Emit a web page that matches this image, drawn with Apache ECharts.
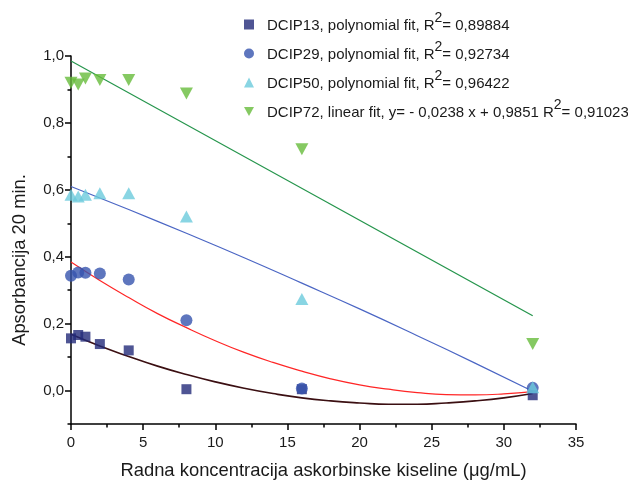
<!DOCTYPE html>
<html>
<head>
<meta charset="utf-8">
<script src="https://cdn.jsdelivr.net/npm/echarts@6/dist/echarts.min.js"></script>
<style>
html,body{margin:0;padding:0;background:#fff;}
#chart{width:628px;height:485px;}
</style>
</head>
<body>
<div id="chart"></div>
<script>
// concentrations (µg/mL)
const conc = [0, 0.5, 1, 2, 4, 8, 16, 32];
// measured absorbance
const dcip13 = [0.156, 0.166, 0.161, 0.139, 0.120, 0.004, 0.004, -0.014];
const dcip29 = [0.343, 0.353, 0.352, 0.350, 0.332, 0.210, 0.006, 0.008];
const dcip50 = [0.585, 0.580, 0.585, 0.590, 0.590, 0.520, 0.274, 0.010];
const dcip72 = [0.920, 0.915, 0.933, 0.928, 0.928, 0.888, 0.721, 0.139];
// fit curves
const fitX2 = [0, 2, 4, 6, 8, 10, 12, 14, 16, 18, 20, 22, 24, 26, 28, 30, 32];
const fit13 = [0.168, 0.133, 0.102, 0.073, 0.048, 0.026, 0.007, -0.009, -0.022, -0.031, -0.037, -0.041, -0.041, -0.037, -0.031, -0.022, -0.009];
const fit29 = [0.384, 0.329, 0.278, 0.230, 0.188, 0.149, 0.114, 0.084, 0.058, 0.035, 0.017, 0.004, -0.006, -0.012, -0.013, -0.010, -0.003];
const fitX4 = [0, 4, 8, 12, 16, 20, 24, 28, 32];
const fit50 = [0.610, 0.541, 0.470, 0.397, 0.321, 0.244, 0.164, 0.082, -0.002];
const fit72X = [0, 32];
const fit72 = [0.9851, 0.2235];
// legend texts
const legendNames = ['DCIP13', 'DCIP29', 'DCIP50', 'DCIP72'];
const legendFits = [
  ['polynomial fit, R', '2', '= 0,89884'],
  ['polynomial fit, R', '2', '= 0,92734'],
  ['polynomial fit, R', '2', '= 0,96422'],
  ['linear fit, y= - 0,0238 x + 0,9851 R', '2', '= 0,91023']
];
// axis ticks
const yMajor = [0, 0.2, 0.4, 0.6, 0.8, 1.0];
const yMinor = [-0.1, 0.1, 0.3, 0.5, 0.7, 0.9];

const pairs = (xs, ys) => xs.map((x, i) => [x, ys[i]]);
const FONT = 'Liberation Sans, Arial, sans-serif';
const colors = {
  s13: '#232a79', s29: '#3654ae', s50: '#6ccbdc', s72: '#67bb3b',
  l13: '#3b0f12', l29: '#ff2626', l50: '#4b66c4', l72: '#25954c'
};
const downTri = 'path://M0,0L10,0L5,9Z';

const chart = echarts.init(document.getElementById('chart'), null, {renderer: 'canvas'});
const option = {
  backgroundColor: '#fff',
  animation: false,
  textStyle: {fontFamily: FONT},
  grid: {left: 71, right: 52, top: 56, bottom: 56, containLabel: false},
  legend: {
    orient: 'vertical',
    left: 239,
    top: 6,
    itemWidth: 10,
    itemHeight: 10,
    itemGap: 7,
    data: [
      {name: legendNames[0], icon: 'rect'},
      {name: legendNames[1], icon: 'circle'},
      {name: legendNames[2], icon: 'triangle'},
      {name: legendNames[3], icon: downTri}
    ],
    formatter: function (n) {
      const i = legendNames.indexOf(n);
      const f = legendFits[i];
      return '{g|}{t|' + n + ', ' + f[0] + '}{s|' + f[1] + '}{t|' + f[2] + '}';
    },
    textStyle: {
      fontFamily: FONT,
      color: '#1a1a1a',
      rich: {
        g: {width: 8, fontSize: 15},
        t: {fontSize: 15, fontFamily: FONT, color: '#1a1a1a', verticalAlign: 'bottom', lineHeight: 17},
        s: {fontSize: 14, fontFamily: FONT, color: '#1a1a1a', verticalAlign: 'bottom', lineHeight: 17, padding: [0, 0, 8, 0]}
      }
    }
  },
  graphic: [{
    type: 'text',
    x: 19.5,
    y: 260,
    rotation: Math.PI / 2,
    style: {
      text: 'Apsorbancija 20 min.',
      font: '18.4px ' + FONT,
      fill: '#1a1a1a',
      align: 'center',
      verticalAlign: 'middle'
    }
  }],
  xAxis: {
    type: 'value',
    min: 0, max: 35, interval: 5,
    name: 'Radna koncentracija askorbinske kiseline (\u03bcg/mL)',
    nameLocation: 'middle',
    nameGap: 38,
    nameTextStyle: {fontSize: 18.4, color: '#1a1a1a', fontFamily: FONT},
    axisLine: {onZero: false, lineStyle: {color: '#000', width: 1.5}},
    axisTick: {show: true, length: 6, lineStyle: {color: '#000', width: 1.5}},
    minorTick: {show: true, splitNumber: 2, length: 3.5, lineStyle: {color: '#000', width: 1.5}},
    axisLabel: {fontSize: 15, color: '#1a1a1a', margin: 11, fontFamily: FONT},
    splitLine: {show: false}
  },
  yAxis: [{
    type: 'value',
    min: -0.1, max: 1.0,
    axisLine: {show: true, onZero: false, lineStyle: {color: '#000', width: 1.5}},
    axisTick: {show: true, length: 6, customValues: yMajor, lineStyle: {color: '#000', width: 1.5}},
    axisLabel: {
      customValues: yMajor, fontSize: 15, color: '#1a1a1a', margin: 7, fontFamily: FONT,
      formatter: v => v.toFixed(1).replace('.', ',')
    },
    splitLine: {show: false}
  }, {
    type: 'value',
    position: 'left',
    min: -0.1, max: 1.0,
    axisLine: {show: false, onZero: false},
    axisTick: {show: true, length: 3.5, customValues: yMinor, lineStyle: {color: '#000', width: 1.5}},
    axisLabel: {show: false, customValues: yMinor},
    splitLine: {show: false}
  }],
  series: [
    {name: 'fit72', type: 'line', data: pairs(fit72X, fit72), showSymbol: false, symbol: 'none',
      lineStyle: {color: colors.l72, width: 1.2}, silent: true, z: 2},
    {name: 'fit50', type: 'line', data: pairs(fitX4, fit50), smooth: true, showSymbol: false, symbol: 'none',
      lineStyle: {color: colors.l50, width: 1.2}, silent: true, z: 2},
    {name: 'fit29', type: 'line', data: pairs(fitX2, fit29), smooth: true, showSymbol: false, symbol: 'none',
      lineStyle: {color: colors.l29, width: 1.2}, silent: true, z: 2},
    {name: 'fit13', type: 'line', data: pairs(fitX2, fit13), smooth: true, showSymbol: false, symbol: 'none',
      lineStyle: {color: colors.l13, width: 1.6}, silent: true, z: 2},
    {name: 'DCIP13', type: 'scatter', data: pairs(conc, dcip13), symbol: 'rect', symbolSize: 10,
      itemStyle: {color: colors.s13}, z: 3},
    {name: 'DCIP29', type: 'scatter', data: pairs(conc, dcip29), symbol: 'circle', symbolSize: 12,
      itemStyle: {color: colors.s29}, z: 3},
    {name: 'DCIP50', type: 'scatter', data: pairs(conc, dcip50), symbol: 'triangle', symbolSize: [13, 12],
      itemStyle: {color: colors.s50}, z: 3},
    {name: 'DCIP72', type: 'scatter', data: pairs(conc, dcip72), symbol: 'triangle', symbolRotate: 180, symbolSize: [13, 12],
      itemStyle: {color: colors.s72}, z: 3}
  ]
};
chart.setOption(option);
</script>
</body>
</html>
